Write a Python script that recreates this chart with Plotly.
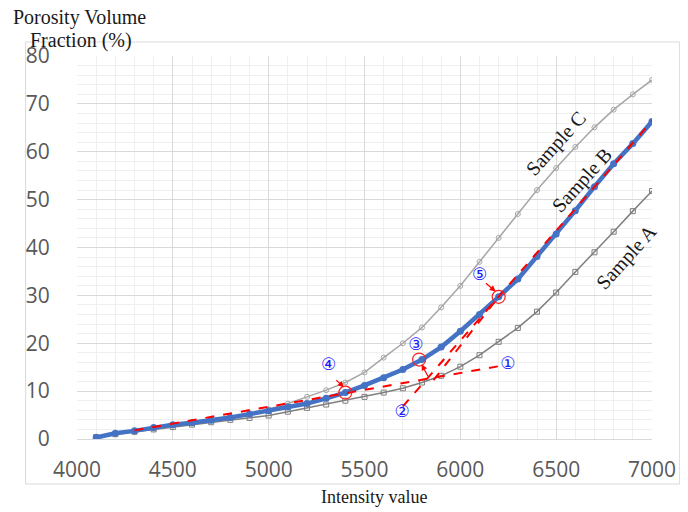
import plotly.graph_objects as go

intensity = [4100, 4200, 4300, 4400, 4500, 4600, 4700, 4800, 4900, 5000,
             5100, 5200, 5300, 5400, 5500, 5600, 5700, 5800, 5900, 6000,
             6100, 6200, 6300, 6400, 6500, 6600, 6700, 6800, 6900, 7000]

sample_a = [0.4, 1.0, 1.5, 2.0, 2.5, 3.0, 3.5, 4.0, 4.4, 4.9,
            5.7, 6.5, 7.2, 8.0, 8.8, 9.7, 10.6, 11.8, 13.2, 15.1,
            17.5, 20.3, 23.2, 26.6, 30.6, 34.9, 39.0, 43.3, 47.6, 51.8]

sample_b = [0.3, 1.2, 1.7, 2.4, 3.0, 3.4, 3.9, 4.5, 5.2, 5.9,
            6.7, 7.4, 8.5, 9.7, 11.2, 12.8, 14.5, 16.6, 19.2, 22.5,
            26.0, 29.7, 33.4, 38.1, 42.8, 47.7, 52.7, 57.5, 61.7, 66.3]

sample_c = [0.5, 1.1, 1.6, 2.2, 2.8, 3.3, 3.9, 4.5, 5.2, 6.2,
            7.4, 8.8, 10.2, 11.8, 13.9, 17.0, 20.0, 23.3, 27.5, 32.0,
            37.0, 42.0, 47.0, 52.0, 56.6, 61.0, 65.1, 68.8, 72.0, 75.0]

# red dashed construction lines (end points)
line1_x = [4300, 6200]
line1_y = [1.8, 15.2]
line2_x = [5700, 7045]
line2_y = [6.8, 68.5]
line3_x = [5860, 6200]
line3_y = [12.3, 29.7]

# highlighted points (red circles)
circle_x = [5400, 5785, 6200]
circle_y = [9.7, 16.6, 29.7]

# circled number labels
num_text = ["①", "②", "③", "④", "⑤"]
num_x = [6248, 5696, 5768, 5313, 6100]
num_y = [15.5, 5.5, 19.4, 15.2, 34.2]

# arrows: (tail x, tail y, head x, head y)
arrow_tail_x = [5345, 5835, 6126]
arrow_tail_y = [12.6, 12.8, 32.8]
arrow_head_x = [5392, 5798, 6184]
arrow_head_y = [10.8, 15.6, 30.8]

sample_names = ["Sample C", "Sample B", "Sample A"]
sample_label_x = [6500, 6635, 6865]
sample_label_y = [61.7, 54.0, 38.0]

x_ticks = [4000, 4500, 5000, 5500, 6000, 6500, 7000]
y_ticks = [0, 10, 20, 30, 40, 50, 60, 70, 80]

fig = go.Figure()

fig.add_trace(go.Scatter(
    x=intensity, y=sample_c, mode="lines+markers",
    line=dict(color="#a6a6a6", width=1.5),
    marker=dict(symbol="circle-open", size=5, color="#a6a6a6", line=dict(width=1)),
    showlegend=False))

fig.add_trace(go.Scatter(
    x=intensity, y=sample_a, mode="lines+markers",
    line=dict(color="#7f7f7f", width=1.5),
    marker=dict(symbol="square-open", size=5, color="#7f7f7f", line=dict(width=1)),
    showlegend=False))

fig.add_trace(go.Scatter(
    x=intensity, y=sample_b, mode="lines+markers",
    line=dict(color="#4472c4", width=4.5),
    marker=dict(symbol="circle", size=7, color="#4472c4"),
    showlegend=False))

for lx, ly in [(line1_x, line1_y), (line2_x, line2_y), (line3_x, line3_y)]:
    fig.add_trace(go.Scatter(
        x=lx, y=ly, mode="lines",
        line=dict(color="#ff0000", width=2, dash="dash"),
        showlegend=False))

fig.add_trace(go.Scatter(
    x=circle_x, y=circle_y, mode="markers",
    marker=dict(symbol="circle-open", size=13, color="#ff2020", line=dict(width=1.2)),
    showlegend=False))

fig.add_trace(go.Scatter(
    x=num_x, y=num_y, mode="text", text=num_text,
    textfont=dict(family="DejaVu Sans", size=17, color="#1a1aff"),
    showlegend=False))

annotations = []
for tx, ty, hx, hy in zip(arrow_tail_x, arrow_tail_y, arrow_head_x, arrow_head_y):
    annotations.append(dict(
        x=hx, y=hy, ax=tx, ay=ty, xref="x", yref="y", axref="x", ayref="y",
        text="", showarrow=True, arrowhead=2, arrowsize=1, arrowwidth=1.2,
        arrowcolor="#ff0000"))

for name, sx, sy in zip(sample_names, sample_label_x, sample_label_y):
    annotations.append(dict(
        x=sx, y=sy, xref="x", yref="y", text=name, showarrow=False,
        textangle=-48, font=dict(family="Liberation Serif", size=20, color="#1a1a1a")))

# page offset (browser body margin) of 8 px
OFF = 8
W, H = 688 - OFF, 512 - OFF
L, R, T, B = 77 - OFF, 29, 56 - OFF, 73
pw, ph = W - L - R, H - T - B


def px_x(v):
    return (v - OFF - L) / pw


def px_y(v):
    return (H - (v - OFF) - B) / ph


annotations.append(dict(
    x=px_x(80), y=px_y(17), xref="paper", yref="paper", text="Porosity Volume",
    showarrow=False, xanchor="center", yanchor="middle",
    font=dict(family="Liberation Serif", size=20, color="#1a1a1a")))
annotations.append(dict(
    x=px_x(81), y=px_y(40), xref="paper", yref="paper", text="Fraction (%)",
    showarrow=False, xanchor="center", yanchor="middle",
    font=dict(family="Liberation Serif", size=20, color="#1a1a1a")))
annotations.append(dict(
    x=px_x(378), y=px_y(497), xref="paper", yref="paper", text="Intensity value",
    showarrow=False, xanchor="center", yanchor="middle",
    font=dict(family="Liberation Serif", size=18, color="#1a1a1a")))

fig.update_layout(
    width=W, height=H,
    margin=dict(l=L, r=R, t=T, b=B),
    paper_bgcolor="white", plot_bgcolor="white",
    annotations=annotations,
    shapes=[dict(type="rect", xref="paper", yref="paper",
                 x0=px_x(25), x1=px_x(687),
                 y0=px_y(484), y1=px_y(42),
                 line=dict(color="#d9d9d9", width=1), fillcolor="rgba(0,0,0,0)",
                 layer="below")],
    xaxis=dict(
        range=[4000, 7000], tickvals=x_ticks, ticktext=[str(v) for v in x_ticks],
        showgrid=True, gridcolor="#d9d9d9", gridwidth=1,
        minor=dict(dtick=100, showgrid=True, gridcolor="#efefef", gridwidth=1),
        showline=True, linecolor="#d9d9d9", linewidth=1, zeroline=False,
        ticks="outside", ticklen=12, tickcolor="rgba(0,0,0,0)",
        tickfont=dict(family="Open Sans", size=21, color="#595959")),
    yaxis=dict(
        range=[0, 80], tickvals=y_ticks, ticktext=[str(v) for v in y_ticks],
        showgrid=True, gridcolor="#d9d9d9", gridwidth=1,
        minor=dict(dtick=2, showgrid=True, gridcolor="#efefef", gridwidth=1),
        showline=False, zeroline=False,
        ticks="outside", ticklen=22, tickcolor="rgba(0,0,0,0)",
        tickfont=dict(family="Open Sans", size=21, color="#595959")),
)

fig.write_html("out.html")
